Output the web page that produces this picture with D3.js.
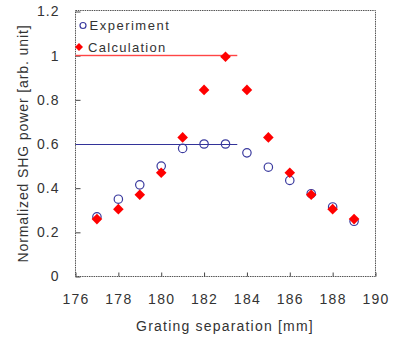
<!DOCTYPE html>
<html>
<head>
<meta charset="utf-8">
<script src="https://cdn.jsdelivr.net/npm/d3@7"></script>
<style>
  body { margin: 0; background: #fff; }
  svg text { font-family: "Liberation Sans", Arial, sans-serif; fill: #333; }
</style>
</head>
<body>
<svg id="chart"></svg>
<script>
const separation = [177, 178, 179, 180, 181, 182, 183, 184, 185, 186, 187, 188, 189];
const experiment = [0.27, 0.35, 0.415, 0.50, 0.58, 0.60, 0.60, 0.56, 0.495, 0.435, 0.375, 0.315, 0.25];
const calculation = [0.26, 0.305, 0.37, 0.47, 0.63, 0.845, 0.995, 0.845, 0.63, 0.47, 0.37, 0.305, 0.26];
const xTicks = [176, 178, 180, 182, 184, 186, 188, 190];
const yTicks = [0, 0.2, 0.4, 0.6, 0.8, 1, 1.2];
const refLines = [
  {value: 1.0, end: 183.55, color: "#ff4545", thick: 1.4},
  {value: 0.6, end: 183.55, color: "#333399", thick: 1}
];

const W = 395, H = 340;
const margin = {top: 11, right: 20, bottom: 64, left: 75};
const w = 375 - margin.left;
const h = 276 - margin.top;

const svg = d3.select("#chart").attr("width", W).attr("height", H);
const g = svg.append("g").attr("transform", `translate(${margin.left + 0.5}, ${margin.top + 0.5})`);

const x = d3.scaleLinear().domain([176, 190]).range([0, w]);
const y = d3.scaleLinear().domain([0, 1.2]).range([h, 0]);

// square-ish diamond marker, half size r
const diamondPath = r => `M0,${-r}L${r},0L0,${r}L${-r},0Z`;

// frame
g.append("rect")
  .attr("x", 0).attr("y", -1)
  .attr("width", w).attr("height", h + 1)
  .attr("fill", "none")
  .attr("stroke", "#555")
  .attr("stroke-dasharray", "1.5,0.8");

// axes with inward ticks
const xAxis = d3.axisBottom(x).tickValues(xTicks).tickSize(-4).tickPadding(18).tickFormat(d3.format("d"));
const yAxis = d3.axisLeft(y).tickValues(yTicks).tickSize(-5).tickPadding(16).tickFormat(d => d === 0 ? "0" : d3.format("~g")(d));

g.append("g")
  .attr("transform", `translate(0, ${h})`)
  .call(xAxis)
  .call(s => s.select(".domain").remove())
  .call(s => s.selectAll(".tick line").attr("stroke", "#444"))
  .call(s => s.selectAll(".tick text").attr("font-size", 14).attr("letter-spacing", "1.3px").attr("fill", "#333"));

g.append("g")
  .call(yAxis)
  .call(s => s.select(".domain").remove())
  .call(s => s.selectAll(".tick line").attr("stroke", "#444"))
  .call(s => s.selectAll(".tick text").attr("font-size", 14).attr("letter-spacing", "1px").attr("fill", "#333"));

// reference lines
g.selectAll("rect.ref")
  .data(refLines)
  .enter()
  .append("rect")
  .attr("class", "ref")
  .attr("x", 0)
  .attr("width", d => x(d.end))
  .attr("y", d => Math.round(y(d.value)) - d.thick / 2)
  .attr("height", d => d.thick)
  .style("fill", d => d.color);

// experiment: open circles
g.selectAll("circle.exp")
  .data(separation.map((s, i) => ({s, v: experiment[i]})))
  .enter()
  .append("circle")
  .attr("class", "exp")
  .attr("cx", d => x(d.s))
  .attr("cy", d => y(d.v))
  .attr("r", 4.2)
  .attr("fill", "none")
  .attr("stroke", "#3a3a9e")
  .attr("stroke-width", 1.2);

// calculation: red diamonds
g.selectAll("path.calc")
  .data(separation.map((s, i) => ({s, v: calculation[i]})))
  .enter()
  .append("path")
  .attr("class", "calc")
  .attr("d", diamondPath(5.3))
  .attr("transform", d => `translate(${x(d.s)}, ${y(d.v)})`)
  .attr("fill", "#ff0000");

// legend
const legend = g.append("g");
legend.append("circle")
  .attr("cx", 7.5).attr("cy", 14)
  .attr("r", 3)
  .attr("fill", "none").attr("stroke", "#3a3a9e").attr("stroke-width", 1.2);
legend.append("text")
  .attr("x", 14).attr("y", 18.5)
  .attr("font-size", 13).attr("letter-spacing", "1.5px")
  .text("Experiment");
legend.append("path")
  .attr("d", diamondPath(4))
  .attr("transform", "translate(3.5, 35.5)")
  .attr("fill", "#ff0000");
legend.append("text")
  .attr("x", 12.5).attr("y", 40.5)
  .attr("font-size", 13).attr("letter-spacing", "1.3px")
  .text("Calculation");

// axis titles
svg.append("text")
  .attr("x", margin.left + w / 2)
  .attr("y", 331)
  .attr("text-anchor", "middle")
  .attr("font-size", 14)
  .attr("letter-spacing", "1.2px")
  .text("Grating separation [mm]");

svg.append("text")
  .attr("transform", `translate(28, ${margin.top + h / 2}) rotate(-90)`)
  .attr("text-anchor", "middle")
  .attr("font-size", 14)
  .attr("letter-spacing", "0.9px")
  .text("Normalized SHG power [arb. unit]");
</script>
</body>
</html>
